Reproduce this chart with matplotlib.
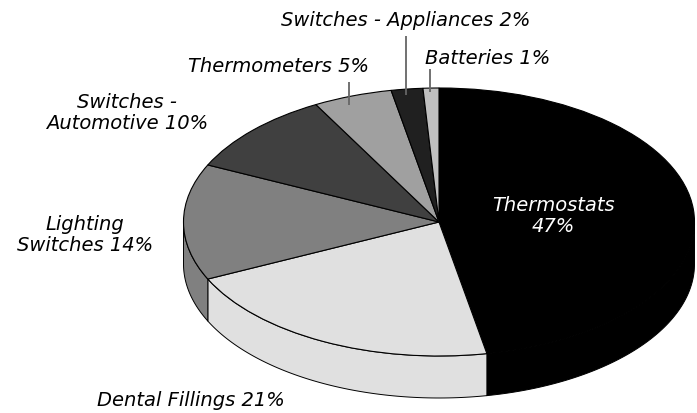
import numpy as np
import matplotlib.pyplot as plt

labels = ['Thermostats\n47%', 'Dental Fillings 21%', 'Lighting\nSwitches 14%', 'Switches -\nAutomotive 10%',
          'Thermometers 5%', 'Switches - Appliances 2%', 'Batteries 1%']
values = [47, 21, 14, 10, 5, 2, 1]
colors = ['#000000', '#e0e0e0', '#808080', '#404040', '#a0a0a0', '#202020', '#c0c0c0']
label_colors = ['white', 'black', 'black', 'black', 'black', 'black', 'black']

W, H = 697, 413
cx, cy = 439, 222    # 타원 중심 (px)
rx, ry = 255.5, 134
depth = 42 / ry

fig = plt.figure(figsize=(W / 100, H / 100), dpi=100)
ax = fig.add_axes([0, 0, 1, 1])

# 옆면: 앞쪽 절반(시계방향 90~270도)만 보임
edges = np.cumsum([0] + values) / sum(values) * 360
for i in range(len(values)):
    a0, a1 = max(edges[i], 90), min(edges[i + 1], 270)
    if a1 <= a0:
        continue
    t = np.radians(np.linspace(a0, a1, 80))
    x = np.sin(t)
    y = np.cos(t)
    ax.fill(np.r_[x, x[::-1]], np.r_[y, y[::-1] - depth], facecolor=colors[i],
            edgecolor='black', linewidth=0.7, joinstyle='round')

ax.pie(values, colors=colors, startangle=90, counterclock=False, radius=1,
       wedgeprops={'edgecolor': 'black', 'linewidth': 0.8})
ax.set_aspect('auto')
ax.set_xlim((0 - cx) / rx, (W - cx) / rx)
ax.set_ylim((cy - H) / ry, (cy - 0) / ry)


def px(x, y):
    return (x - cx) / rx, (cy - y) / ry


# 지시선
for (x0, y0), (x1, y1) in [((349, 82), (349, 105)), ((406, 36), (406, 95)), ((430, 69), (430, 92))]:
    ax.plot(*zip(px(x0, y0), px(x1, y1)), color='#666666', linewidth=1.3, solid_capstyle='butt')

# 라벨 위치 (px)
label_pos = [(553, 216), (191, 400), (85, 235), (127, 113), (278, 67), (406, 21), (488, 59)]
for text, (x, y), c in zip(labels, label_pos, label_colors):
    ax.text(*px(x, y), text, color=c, fontsize=14, style='italic', family='DejaVu Sans',
            ha='center', va='center', linespacing=1.1)

fig.savefig('out.png', dpi=100)
